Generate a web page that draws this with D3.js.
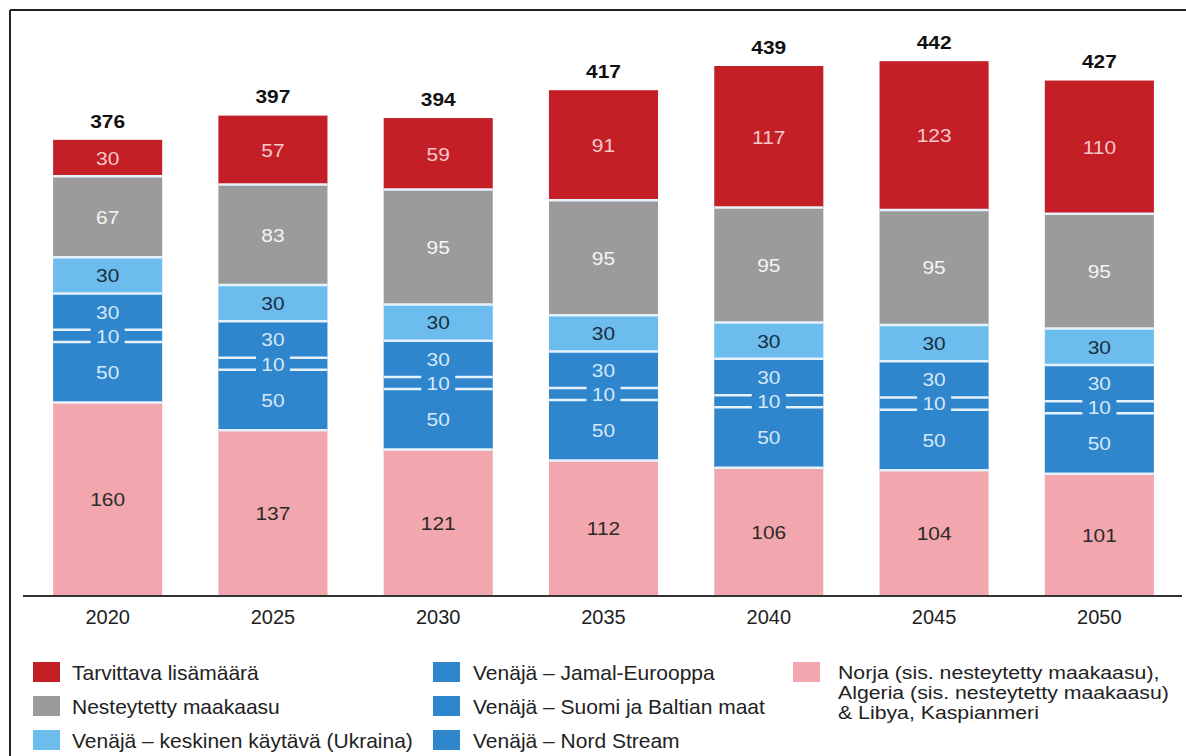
<!DOCTYPE html>
<html>
<head>
<meta charset="utf-8">
<script src="https://cdn.jsdelivr.net/npm/d3@7"></script>
<style>
  body { margin: 0; background: #fff; }
  svg text { font-family: "Liberation Sans", Arial, sans-serif; }
</style>
</head>
<body>
<svg id="chart" width="1186" height="756"></svg>
<script>
// data, bottom series first
const years = ['2020', '2025', '2030', '2035', '2040', '2045', '2050'];
const norja = [160, 137, 121, 112, 106, 104, 101];
const nordStream = [50, 50, 50, 50, 50, 50, 50];
const suomiBaltia = [10, 10, 10, 10, 10, 10, 10];
const jamal = [30, 30, 30, 30, 30, 30, 30];
const ukraina = [30, 30, 30, 30, 30, 30, 30];
const nesteytetty = [67, 83, 95, 95, 95, 95, 95];
const lisamaara = [30, 57, 59, 91, 117, 123, 110];
const totals = [376, 397, 394, 417, 439, 442, 427];

const series = [
  { key: 'norja', values: norja, color: '#f2a6ad', text: '#2a2a2a',
    label: ['Norja (sis. nesteytetty maakaasu),', 'Algeria (sis. nesteytetty maakaasu)', '& Libya, Kaspianmeri'] },
  { key: 'nord', values: nordStream, color: '#2f86cc', text: '#d4e8fa', label: ['Venäjä – Nord Stream'] },
  { key: 'suomi', values: suomiBaltia, color: '#2f86cc', text: '#d4e8fa', label: ['Venäjä – Suomi ja Baltian maat'] },
  { key: 'jamal', values: jamal, color: '#2f86cc', text: '#d4e8fa', label: ['Venäjä – Jamal-Eurooppa'] },
  { key: 'ukraina', values: ukraina, color: '#6cbdee', text: '#1b2c40', label: ['Venäjä – keskinen käytävä (Ukraina)'] },
  { key: 'lng', values: nesteytetty, color: '#9b9b9b', text: '#f4f4f4', label: ['Nesteytetty maakaasu'] },
  { key: 'lisa', values: lisamaara, color: '#c41f27', text: '#f6c9c9', label: ['Tarvittava lisämäärä'] }
];

const svg = d3.select('#chart');

// frame (left + top only, rest is cropped)
svg.append('line').attr('x1', 10).attr('y1', 10).attr('x2', 1186).attr('y2', 10)
  .attr('stroke', '#222').attr('stroke-width', 2);
svg.append('line').attr('x1', 10).attr('y1', 10).attr('x2', 10).attr('y2', 756)
  .attr('stroke', '#222').attr('stroke-width', 2);

const x = d3.scaleBand().domain(years).range([25, 1182]).paddingInner(0.34).paddingOuter(0.17);
const y = d3.scaleLinear().domain([0, 450]).range([596, 596 - 450 * 1.21]);

const rows = years.map((yr, i) => {
  const r = { year: yr };
  series.forEach(s => { r[s.key] = s.values[i]; });
  return r;
});
const stacked = d3.stack().keys(series.map(s => s.key))(rows);

const gBars = svg.append('g');
stacked.forEach((layer, li) => {
  const s = series[li];
  gBars.selectAll(null).data(layer).join('rect')
    .attr('x', d => x(d.data.year))
    .attr('y', d => y(d[1]))
    .attr('width', x.bandwidth())
    .attr('height', d => y(d[0]) - y(d[1]))
    .attr('fill', s.color);
});

// separators between segments
stacked.forEach((layer, li) => {
  if (li === 0) return;
  gBars.selectAll(null).data(layer).join('line')
    .attr('x1', d => x(d.data.year)).attr('x2', d => x(d.data.year) + x.bandwidth())
    .attr('y1', d => y(d[0])).attr('y2', d => y(d[0]))
    .attr('stroke', '#e6f2fc').attr('stroke-width', 2.5);
});

// text that is a bit wider than the plain font, like the original
let wideText = (g, cx, cy, size, str) => g.append('text')
  .attr('transform', 'translate(' + cx + ',' + cy + ') scale(1.1,1)')
  .attr('dy', '0.36em').attr('text-anchor', 'middle').attr('font-size', size).text(str);

// segment labels
stacked.forEach((layer, li) => {
  const s = series[li];
  const g = svg.append('g');
  layer.forEach(d => {
    const cx = x(d.data.year) + x.bandwidth() / 2;
    const cy = (y(d[0]) + y(d[1])) / 2;
    if (s.key === 'suomi') {
      // cover the separator lines around the small label
      g.append('rect').attr('x', cx - 17).attr('y', y(d[1]) - 3)
        .attr('width', 34).attr('height', y(d[0]) - y(d[1]) + 6).attr('fill', s.color);
    }
    wideText(g, cx, cy, 19, d[1] - d[0]).attr('fill', s.text);
  });
});

// totals
const topLayer = stacked[stacked.length - 1];
const gTot = svg.append('g');
topLayer.forEach((d, i) => {
  wideText(gTot, x(d.data.year) + x.bandwidth() / 2, y(d[1]) - 19, 19, totals[i])
    .attr('font-weight', 'bold').attr('fill', '#111');
});

// x axis
const xAxis = svg.append('g').attr('transform', 'translate(0,596)')
  .call(d3.axisBottom(x).tickSize(0).tickPadding(14));
xAxis.select('.domain').remove();
xAxis.selectAll('text').attr('font-size', 20).attr('fill', '#222')
  .attr('font-family', '"Liberation Sans", Arial, sans-serif');
svg.append('line').attr('x1', 23).attr('x2', 1182).attr('y1', 596).attr('y2', 596)
  .attr('stroke', '#333').attr('stroke-width', 2);

// legend
const legendItems = [
  { s: 'lisa', col: 0, row: 0 }, { s: 'lng', col: 0, row: 1 }, { s: 'ukraina', col: 0, row: 2 },
  { s: 'jamal', col: 1, row: 0 }, { s: 'suomi', col: 1, row: 1 }, { s: 'nord', col: 1, row: 2 },
  { s: 'norja', col: 2, row: 0 }
];
const colX = [33, 433, 793];
const textOff = [39, 40, 45];
const rowY = [672, 706, 740];
const legend = svg.append('g');
legendItems.forEach(it => {
  const s = series.find(d => d.key === it.s);
  const lx = colX[it.col], ly = rowY[it.row];
  legend.append('rect').attr('x', lx).attr('y', ly - 10).attr('width', 27).attr('height', 20)
    .attr('fill', s.color);
  if (s.label.length === 1) {
    legend.append('text').attr('x', lx + textOff[it.col]).attr('y', ly).attr('dy', '0.36em')
      .attr('font-size', 21).attr('fill', '#222').text(s.label[0]);
  } else {
    // multi-line entry: narrower lines, stretched to the original's width
    s.label.forEach((ln, k) => {
      legend.append('text')
        .attr('transform', 'translate(' + (lx + textOff[it.col]) + ',' + (ly + k * 20) + ') scale(1.15,1)')
        .attr('dy', '0.36em').attr('font-size', 18.5).attr('fill', '#222').text(ln);
    });
  }
});
</script>
</body>
</html>
